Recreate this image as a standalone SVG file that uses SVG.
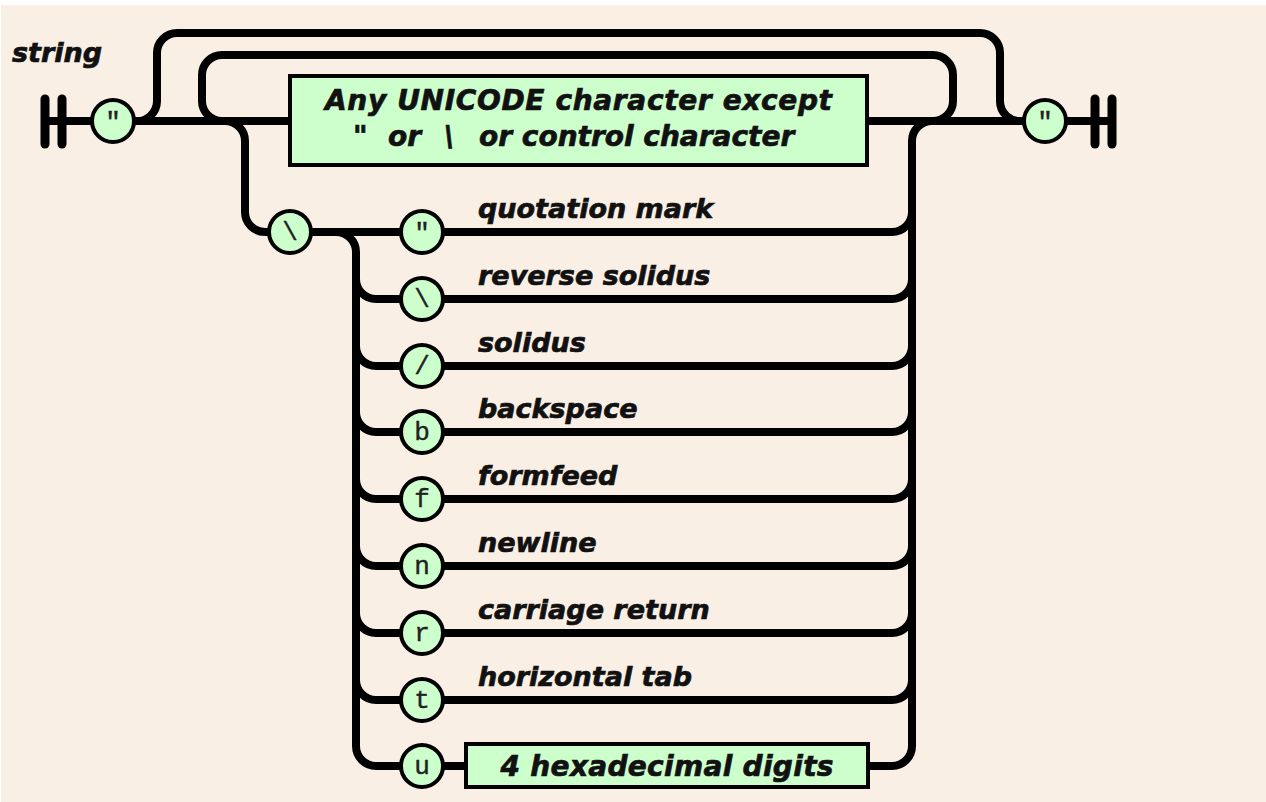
<svg xmlns="http://www.w3.org/2000/svg" width="1266" height="802" viewBox="0 0 1266 802">
<defs>
<style>
.bg{fill:#FAEFE5}
.ln{fill:none;stroke:#000;stroke-width:8;stroke-linecap:butt;stroke-linejoin:round}
.bar{stroke:#000;stroke-width:9;stroke-linecap:round}
.term{fill:#CCFFCC;stroke:#000;stroke-width:4}
.box{fill:#CCFFCC;stroke:#000;stroke-width:4}
.lbl{font-family:"DejaVu Sans","Liberation Sans",sans-serif;font-weight:bold;font-style:italic;font-size:27px;fill:#111;stroke:#111;stroke-width:0.7}
.btx{font-family:"DejaVu Sans","Liberation Sans",sans-serif;font-weight:bold;font-style:italic;font-size:28px;fill:#111;stroke:#111;stroke-width:0.7}
.ch{font-family:"Liberation Mono","DejaVu Sans Mono",monospace;font-size:26px;fill:#222;text-anchor:middle;stroke:#222;stroke-width:0.4}
</style>
</defs>
<rect x="0" y="0" width="1266" height="802" fill="#FFFFFF"/>
<rect class="bg" x="1" y="5" width="1265" height="797"/>

<text id="title" class="lbl" x="12" y="62" font-size="26">string</text>

<g id="connectors">
  <path class="ln" d="M45 121 L292 121"/>
  <path class="ln" d="M865 121 L1112 121"/>
  <path class="ln" d="M135 121 A20 20 0 0 0 157 101 L157 53 A20 20 0 0 1 177 33 L980 33 A20 20 0 0 1 1000 53 L1000 101 A20 20 0 0 0 1022 121"/>
  <path class="ln" d="M222 121 A20 20 0 0 1 202 101 L202 75 A20 20 0 0 1 222 55 L933 55 A20 20 0 0 1 953 75 L953 101 A20 20 0 0 1 933 121"/>
  <path class="ln" d="M225 121 A20 20 0 0 1 245 141 L245 212 A20 20 0 0 0 265 232 L272 232"/>
  <path class="ln" d="M308 232 L404 232"/>
  <path class="ln" d="M336 232 A20 20 0 0 1 356 252 L356 746 A20 20 0 0 0 376 766 L404 766"/>
  <path class="ln" d="M356 279 A20 20 0 0 0 376 299 L404 299"/>
  <path class="ln" d="M356 346 A20 20 0 0 0 376 366 L404 366"/>
  <path class="ln" d="M356 412 A20 20 0 0 0 376 432 L404 432"/>
  <path class="ln" d="M356 479 A20 20 0 0 0 376 499 L404 499"/>
  <path class="ln" d="M356 546 A20 20 0 0 0 376 566 L404 566"/>
  <path class="ln" d="M356 613 A20 20 0 0 0 376 633 L404 633"/>
  <path class="ln" d="M356 680 A20 20 0 0 0 376 700 L404 700"/>
  <path class="ln" d="M932 121 A20 20 0 0 0 912 141 L912 746 A20 20 0 0 1 892 766 L866 766"/>
  <path class="ln" d="M440 232 L892 232 A20 20 0 0 0 912 212"/>
  <path class="ln" d="M440 299 L892 299 A20 20 0 0 0 912 279"/>
  <path class="ln" d="M440 366 L892 366 A20 20 0 0 0 912 346"/>
  <path class="ln" d="M440 432 L892 432 A20 20 0 0 0 912 412"/>
  <path class="ln" d="M440 499 L892 499 A20 20 0 0 0 912 479"/>
  <path class="ln" d="M440 566 L892 566 A20 20 0 0 0 912 546"/>
  <path class="ln" d="M440 633 L892 633 A20 20 0 0 0 912 613"/>
  <path class="ln" d="M440 700 L892 700 A20 20 0 0 0 912 680"/>
  <path class="ln" d="M440 766 L468 766"/>
</g>

<g id="start">
  <line class="bar" x1="45" y1="99" x2="45" y2="144"/>
  <line class="bar" x1="62" y1="99" x2="62" y2="144"/>
</g>
<g id="end">
  <line class="bar" x1="1095" y1="99" x2="1095" y2="144"/>
  <line class="bar" x1="1112" y1="99" x2="1112" y2="144"/>
</g>

<g id="open-quote"><circle class="term" cx="113" cy="121" r="21"/><text class="ch" x="113" y="130">"</text></g>
<g id="close-quote"><circle class="term" cx="1045" cy="121" r="21"/><text class="ch" x="1045" y="130">"</text></g>

<g id="any-char">
  <rect class="box" x="290" y="76" width="577" height="89"/>
  <text class="btx" x="578.5" y="110" text-anchor="middle" textLength="507" lengthAdjust="spacing">Any UNICODE character except</text>
  <text class="btx" y="146"><tspan x="353">"</tspan><tspan x="388">or</tspan><tspan x="444">\</tspan><tspan x="479">or control character</tspan></text>
</g>

<g id="backslash"><circle class="term" cx="290" cy="232" r="21"/><text class="ch" x="290" y="240">\</text></g>

<g id="esc-quote"><circle class="term" cx="422" cy="232" r="21"/><text class="ch" x="422" y="241">"</text><text class="lbl" x="478" y="218">quotation mark</text></g>
<g id="esc-backslash"><circle class="term" cx="422" cy="299" r="21"/><text class="ch" x="422" y="307">\</text><text class="lbl" x="478" y="285">reverse solidus</text></g>
<g id="esc-solidus"><circle class="term" cx="422" cy="366" r="21"/><text class="ch" x="422" y="374">/</text><text class="lbl" x="478" y="352">solidus</text></g>
<g id="esc-b"><circle class="term" cx="422" cy="432" r="21"/><text class="ch" x="422" y="440">b</text><text class="lbl" x="478" y="418">backspace</text></g>
<g id="esc-f"><circle class="term" cx="422" cy="499" r="21"/><text class="ch" x="422" y="507">f</text><text class="lbl" x="478" y="485">formfeed</text></g>
<g id="esc-n"><circle class="term" cx="422" cy="566" r="21"/><text class="ch" x="422" y="574">n</text><text class="lbl" x="478" y="552">newline</text></g>
<g id="esc-r"><circle class="term" cx="422" cy="633" r="21"/><text class="ch" x="422" y="641">r</text><text class="lbl" x="478" y="619">carriage return</text></g>
<g id="esc-t"><circle class="term" cx="422" cy="700" r="21"/><text class="ch" x="422" y="708">t</text><text class="lbl" x="478" y="686">horizontal tab</text></g>
<g id="esc-u"><circle class="term" cx="422" cy="766" r="21"/><text class="ch" x="422" y="774">u</text></g>

<g id="hex-digits">
  <rect class="box" x="466" y="744" width="402" height="43"/>
  <text class="btx" x="667" y="776" text-anchor="middle" textLength="333" lengthAdjust="spacing">4 hexadecimal digits</text>
</g>
</svg>
